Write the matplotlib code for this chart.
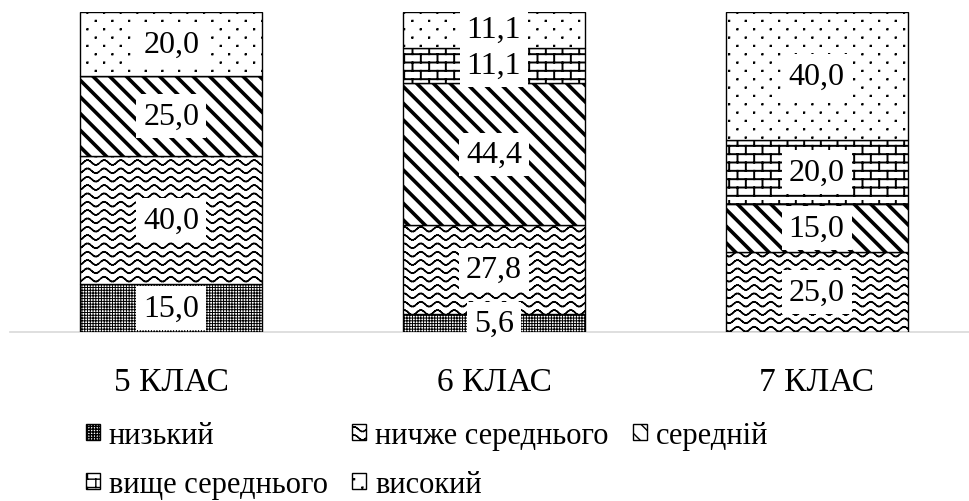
import warnings
warnings.filterwarnings('ignore')
import numpy as np
import matplotlib
matplotlib.use('Agg')
import matplotlib.pyplot as plt
from matplotlib import hatch as mhatch
from matplotlib.path import Path

# ---------------- data ----------------
categories = ['5 КЛАС', '6 КЛАС', '7 КЛАС']
levels = ['низький', 'ничже середнього', 'середній', 'вище середнього', 'високий']
low = [15.0, 5.6, 0.0]
below_avg = [40.0, 27.8, 25.0]
average = [25.0, 44.4, 15.0]
above_avg = [0.0, 11.1, 20.0]
high = [20.0, 11.1, 40.0]
series = [low, below_avg, average, above_avg, high]


# ---------------- custom hatch patterns ----------------
class _SegHatch(mhatch.HatchPatternBase):
    char = None

    def __init__(self, hatch, density):
        self.active = bool(hatch) and (self.char in hatch)
        self.segs = self.build() if self.active else []
        self.num_vertices = sum(len(s) for s in self.segs)

    def build(self):
        return []

    def set_vertices_and_codes(self, vertices, codes):
        i = 0
        for s in self.segs:
            n = len(s)
            vertices[i:i + n] = s
            codes[i] = Path.MOVETO
            codes[i + 1:i + n] = Path.LINETO
            i += n


class WaveHatch(_SegHatch):
    char = '~'

    def build(self):
        rows, waves, per = 12, 6, 10
        xs = np.linspace(0, 1, waves * per + 1)
        segs = []
        for k in range(rows):
            y0 = (k + 0.5) / rows
            ys = y0 + 0.024 * np.sin(2 * np.pi * waves * xs)
            for a in range(len(xs) - 1):
                segs.append([(xs[a], ys[a]), (xs[a + 1], ys[a + 1])])
        return segs


class BrickHatch(_SegHatch):
    char = '#'

    def build(self):
        rows, cols = 12, 6
        segs = []
        for k in range(rows):
            y0 = (k + 0.5) / rows
            segs.append([(0.0, y0), (1.0, y0)])
            y1 = (k + 1.5) / rows
            for j in range(cols):
                x = (j + 0.25 + 0.5 * (k % 2)) / cols
                segs.append([(x, y0), (x, min(y1, 1.0))])
        return segs


class DotHatch(_SegHatch):
    char = ':'

    def build(self):
        rows, cols, s = 12, 6, 0.004
        segs = []
        for k in range(rows):
            y = (k + 0.5) / rows
            for j in range(cols):
                x = (j + 0.25 + 0.5 * (k % 2)) / cols
                segs.append([(x - s, y - s), (x + s, y - s), (x + s, y + s),
                             (x - s, y + s), (x - s, y - s)])
        return segs


mhatch._hatch_types.extend([WaveHatch, BrickHatch, DotHatch])

hatches = ['++++++', '~', '\\\\', '#', ':']
hatch_lw = [0.7, 1.1, 2.6, 1.4, 1.0]

# ---------------- figure ----------------
plt.rcParams['font.family'] = ['Liberation Serif', 'DejaVu Serif']
W, H = 969, 502
fig = plt.figure(figsize=(W / 100, H / 100), dpi=100)
ax = fig.add_axes([10 / W, (H - 333) / H, 968 / W, 320 / H])

x = np.arange(len(categories))
bar_w = 0.564
bottom = np.zeros(len(categories))
containers = []
for vals, lab, hp, hlw in zip(series, levels, hatches, hatch_lw):
    with plt.rc_context({'hatch.linewidth': hlw}):
        bc = ax.bar(x, vals, bar_w, bottom=bottom, color='white',
                    edgecolor='black', linewidth=1.0, hatch=hp, label=lab,
                    zorder=2)
        for p in bc.patches:
            if hasattr(p, 'set_hatch_linewidth'):
                p.set_hatch_linewidth(hlw)
    containers.append(bc)
    for xi, v, b in zip(x, vals, bottom):
        if v > 0:
            ax.text(xi, b + v / 2, f'{v:.1f}'.replace('.', ','),
                    ha='center', va='center', fontsize=23, zorder=5,
                    bbox=dict(boxstyle='square,pad=0.22', facecolor='white',
                              edgecolor='none'))
    bottom = bottom + np.array(vals)

ax.set_xlim(-0.5, 2.5)
ax.set_ylim(0, 100)
for s in ['top', 'right', 'left']:
    ax.spines[s].set_visible(False)
ax.spines['bottom'].set_color('#d9d9d9')
ax.spines['bottom'].set_linewidth(1.2)
ax.spines['bottom'].set_zorder(1)
ax.set_yticks([])
ax.set_xticks(x)
ax.set_xticklabels(categories, fontsize=24)
ax.tick_params(axis='x', length=0, pad=25)

order = [0, 3, 1, 4, 2]
handles = [containers[i] for i in order]
labels = [levels[i] for i in order]
fig.legend(handles, labels, ncol=3, loc='upper left',
           bbox_to_anchor=(86 / W, (H - 422) / H), frameon=False,
           fontsize=22, handlelength=0.45, handleheight=0.45,
           handletextpad=0.3, columnspacing=0.8, borderpad=0,
           borderaxespad=0, labelspacing=0.66)

fig.savefig('out.png', dpi=100)
